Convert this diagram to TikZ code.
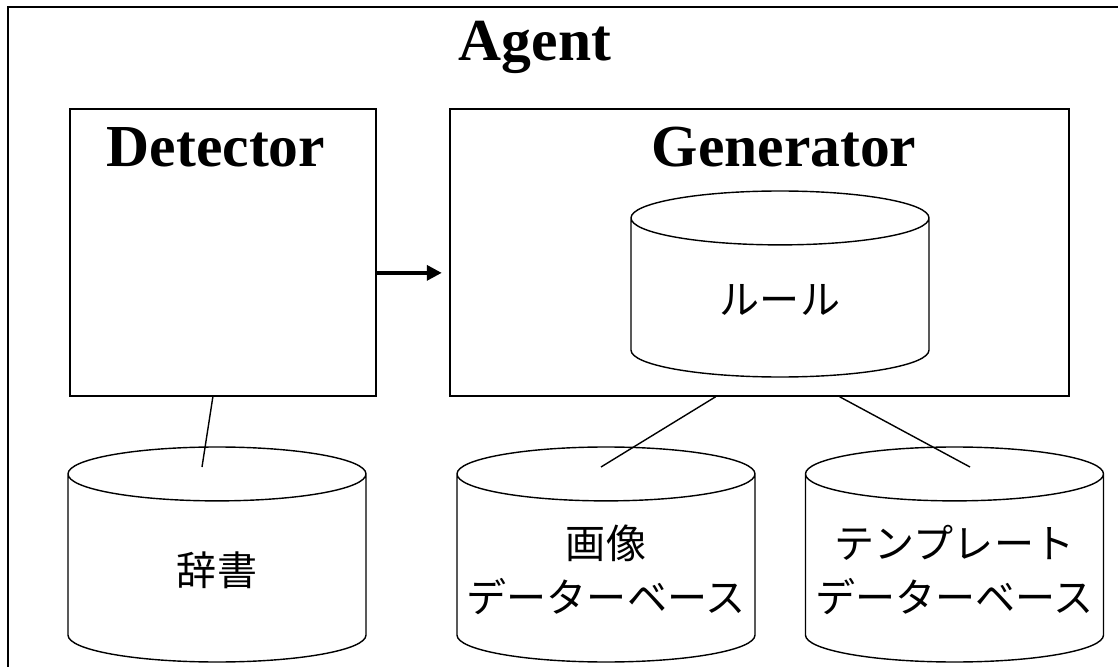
\documentclass[tikz,border=0pt]{standalone}
\usepackage{fontspec}
\setmainfont{Liberation Serif}
\newfontfamily\jpfont{Noto Sans CJK JP}
\usepackage{tikz}
\usetikzlibrary{arrows.meta,positioning,calc,shapes.geometric}

\begin{document}
\begin{tikzpicture}[
          frame/.style={draw, line width=1.1pt, anchor=north west,
                        minimum width=23cm, minimum height=13.5cm},
          box/.style={draw, line width=1pt, minimum height=5.74cm},
          title/.style={font=\fontsize{33.9pt}{40pt}\selectfont\bfseries, anchor=base},
          db/.style={draw, line width=0.8pt, cylinder, shape border rotate=90,
                     aspect=4.6, minimum width=5.96cm, outer sep=0pt, anchor=north},
          dbtext/.style={font=\jpfont\fontsize{22.8pt}{30.7pt}\selectfont, align=center},
          arr/.style={-{Triangle[length=0.3cm, width=0.3cm]}, line width=2pt},
          link/.style={line width=0.8pt}
        ]
          \useasboundingbox (0,0) rectangle (22.36,-13.34);
          \clip (0,0) rectangle (22.36,-13.34);
          \node[frame] (agent) at (0.14,-0.12) {};
          \node[title] (agentlbl) at (10.7,-1.22) {Agent};
          \node[box, anchor=north west, minimum width=6.12cm] (det) at (1.38,-2.16) {};
          \node[box, right=1.44cm of det, minimum width=12.38cm] (gen) {};
          \node[title] (detlbl) at (4.32,-3.34) {Detector};
          \node[title] (genlbl) at (15.68,-3.34) {Generator};
          \node[db, minimum height=3.72cm] (rule) at (15.6,-3.82) {};
          \node[db, minimum height=4.3cm] (dict) at (4.34,-8.94) {};
          \node[db, minimum height=4.3cm] (img) at (12.12,-8.94) {};
          \node[db, minimum height=4.3cm] (tmpl) at (19.09,-8.94) {};
          \node[dbtext] (ruletxt) at ([yshift=-2.18cm]rule.north) {ルール};
          \node[dbtext] (dicttxt) at ([yshift=-2.46cm]dict.north) {辞書};
          \node[dbtext] (imgtxt) at ([yshift=-2.46cm]img.north) {画像\\データーベース};
          \node[dbtext] (tmpltxt) at ([yshift=-2.46cm]tmpl.north) {テンプレート\\データーベース};
          \draw[arr] ([yshift=-0.41cm]det.east) -- ([xshift=-0.14cm, yshift=-0.41cm]gen.west);
          \draw[link] ([xshift=-0.2cm]det.south) -- ([xshift=-0.3cm, yshift=-0.4cm]dict.north);
          \draw[link] ([xshift=-0.87cm]gen.south) -- ([xshift=-0.1cm, yshift=-0.4cm]img.north);
          \draw[link] ([xshift=1.61cm]gen.south) -- ([xshift=0.31cm, yshift=-0.4cm]tmpl.north);
        \end{tikzpicture}
\end{document}
